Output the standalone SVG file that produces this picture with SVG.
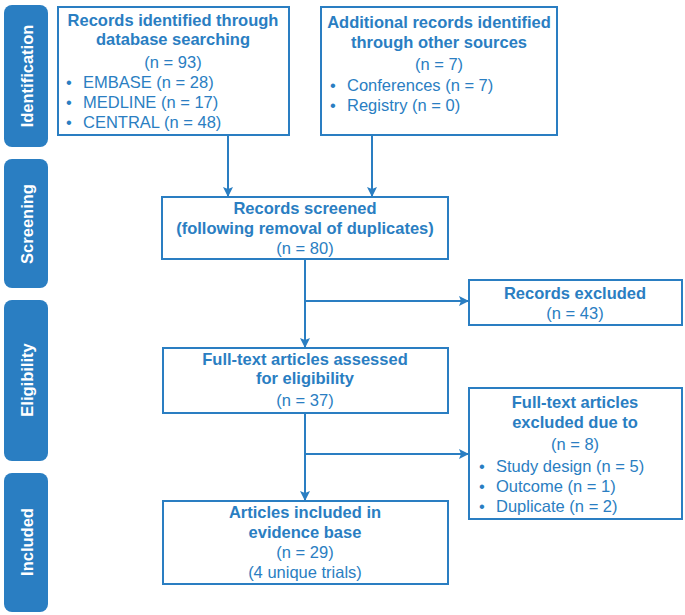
<svg xmlns="http://www.w3.org/2000/svg" width="685" height="615" viewBox="0 0 685 615">
<style>
.stage{fill:#2A7EC2;}
.stxt{fill:#fff;font-family:"Liberation Sans",Arial,sans-serif;font-weight:bold;font-size:16.5px;text-anchor:middle;}
.box{fill:#fff;stroke:#2A7EC2;stroke-width:2;}
.t{fill:#2A7EC2;font-family:"Liberation Sans",Arial,sans-serif;font-size:16.5px;}
.b{font-weight:bold;}
.c{text-anchor:middle;}
.conn{stroke:#2A7EC2;stroke-width:2;fill:none;}
</style>
<defs>
<marker id="ah" markerWidth="10" markerHeight="10" refX="9" refY="5" orient="auto" markerUnits="userSpaceOnUse">
<path d="M0,0 L10,5 L0,10 L2,5 Z" fill="#2A7EC2"/>
</marker>
</defs>
<rect width="685" height="615" fill="#fff"/>
<g id="stage-identification">
<rect class="stage" x="4" y="5" width="44" height="142" rx="8"/>
<text class="stxt" transform="translate(33,76) rotate(-90)">Identification</text>
</g>
<g id="stage-screening">
<rect class="stage" x="4" y="159" width="44" height="129" rx="8"/>
<text class="stxt" transform="translate(33,224) rotate(-90)">Screening</text>
</g>
<g id="stage-eligibility">
<rect class="stage" x="4" y="300" width="44" height="161" rx="8"/>
<text class="stxt" transform="translate(33,380) rotate(-90)">Eligibility</text>
</g>
<g id="stage-included">
<rect class="stage" x="4" y="473" width="44" height="139" rx="8"/>
<text class="stxt" transform="translate(33,542) rotate(-90)">Included</text>
</g>
<g id="connectors">
<line class="conn" x1="228" y1="135" x2="228" y2="196" marker-end="url(#ah)"/>
<line class="conn" x1="372" y1="135" x2="372" y2="196" marker-end="url(#ah)"/>
<line class="conn" x1="305" y1="259" x2="305" y2="347" marker-end="url(#ah)"/>
<line class="conn" x1="305" y1="301" x2="468" y2="301" marker-end="url(#ah)"/>
<line class="conn" x1="305" y1="413" x2="305" y2="500" marker-end="url(#ah)"/>
<line class="conn" x1="305" y1="454" x2="468" y2="454" marker-end="url(#ah)"/>
</g>
<g id="box-database">
<rect class="box" x="58" y="7" width="231" height="128"/>
<text class="t b c" x="173" y="26">Records identified through</text>
<text class="t b c" x="173" y="45">database searching</text>
<text class="t c" x="173" y="68">(n = 93)</text>
<text class="t" x="66" y="88">•</text><text class="t" x="83" y="88">EMBASE (n = 28)</text>
<text class="t" x="66" y="108">•</text><text class="t" x="83" y="108">MEDLINE (n = 17)</text>
<text class="t" x="66" y="128">•</text><text class="t" x="83" y="128">CENTRAL (n = 48)</text>
</g>
<g id="box-other">
<rect class="box" x="321" y="7" width="236" height="128"/>
<text class="t b c" x="439" y="28">Additional records identified</text>
<text class="t b c" x="439" y="48">through other sources</text>
<text class="t c" x="439" y="70">(n = 7)</text>
<text class="t" x="330" y="91">•</text><text class="t" x="347" y="91">Conferences (n = 7)</text>
<text class="t" x="330" y="111">•</text><text class="t" x="347" y="111">Registry (n = 0)</text>
</g>
<g id="box-screened">
<rect class="box" x="162" y="197" width="286" height="62"/>
<text class="t b c" x="305" y="214">Records screened</text>
<text class="t b c" x="305" y="234">(following removal of duplicates)</text>
<text class="t c" x="305" y="254">(n = 80)</text>
</g>
<g id="box-excluded">
<rect class="box" x="469" y="280" width="213" height="45"/>
<text class="t b c" x="575" y="299">Records excluded</text>
<text class="t c" x="575" y="319">(n = 43)</text>
</g>
<g id="box-fulltext">
<rect class="box" x="163" y="348" width="285" height="65"/>
<text class="t b c" x="305" y="365">Full-text articles assessed</text>
<text class="t b c" x="305" y="384">for eligibility</text>
<text class="t c" x="305" y="406">(n = 37)</text>
</g>
<g id="box-fulltext-excluded">
<rect class="box" x="469" y="388" width="213" height="131"/>
<text class="t b c" x="575" y="408">Full-text articles</text>
<text class="t b c" x="575" y="428">excluded due to</text>
<text class="t c" x="575" y="450">(n = 8)</text>
<text class="t" x="479" y="472">•</text><text class="t" x="496" y="472">Study design (n = 5)</text>
<text class="t" x="479" y="492">•</text><text class="t" x="496" y="492">Outcome (n = 1)</text>
<text class="t" x="479" y="512">•</text><text class="t" x="496" y="512">Duplicate (n = 2)</text>
</g>
<g id="box-included">
<rect class="box" x="163" y="501" width="285" height="83"/>
<text class="t b c" x="305" y="518">Articles included in</text>
<text class="t b c" x="305" y="538">evidence base</text>
<text class="t c" x="305" y="558">(n = 29)</text>
<text class="t c" x="305" y="578">(4 unique trials)</text>
</g>
</svg>
